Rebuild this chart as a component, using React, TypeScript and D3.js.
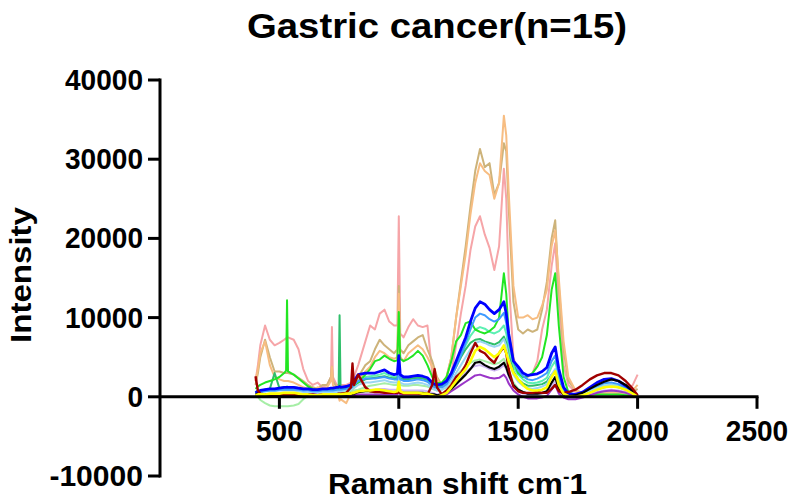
import React from 'react';
import * as d3 from 'd3';

// shared wavenumber grid (cm-1)
const wavenumbers = [
  400, 410, 420, 440, 460, 480, 500, 520, 528, 532, 536,
  560, 580, 600, 620, 640, 660, 680, 700, 716, 720, 724,
  740, 748, 752, 756, 780, 800, 806, 812, 830, 860, 880,
  900, 920, 940, 960, 980, 994, 1000, 1006, 1020, 1040, 1060,
  1080, 1100, 1120, 1140, 1150, 1160, 1180, 1200, 1220, 1240, 1260,
  1280, 1300, 1320, 1340, 1360, 1380, 1400, 1420, 1440, 1450, 1460,
  1480, 1500, 1520, 1540, 1560, 1580, 1600, 1620, 1640, 1655, 1670,
  1690, 1710, 1740, 1770, 1800, 1830, 1860, 1890, 1920, 1950, 1980, 2000,
];

const pink = [
  2000, 4000, 6500, 9000, 7200, 6500, 6800, 7200, 7400, 7500, 7500,
  7200, 6000, 3500, 2000, 1500, 1800, 1200, 1500, 2500, 8800, 2500,
  1500, 1500, 1500, 1500, 1500, 1800, 2200, 2500, 4000, 7000, 9000,
  8500, 10500, 11000, 9500, 9000, 9000, 22800, 8000, 7500, 8800, 9800,
  9000, 8800, 9000, 3000, 2000, 1500, 1200, 1500, 3000, 6500, 10500,
  14000, 18500, 21500, 22800, 20500, 18800, 16000, 19000, 28800, 25000, 15000,
  5000, 3000, 2500, 2500, 3000, 4500, 8500, 11000, 16500, 19400, 12000,
  4000, 1500, 600, 500, 500, 500, 500, 500, 500, 600, 1500, 2800,
];
const tan = [
  1500, 3000, 5000, 7200, 5000, 3200, 3200, 3000, 3000, 3000, 3000,
  2800, 2400, 2000, 1500, 1200, 1000, 1500, 1500, 2500, 3800, 2000,
  1200, 1000, 1000, 1000, 600, 800, 1000, 1500, 2500, 4000, 4500,
  6000, 7200, 6500, 6000, 5500, 6000, 14000, 6000, 5500, 6500, 7000,
  7500, 7800, 6000, 4500, 3500, 2500, 1500, 2500, 5000, 10000, 14500,
  19000, 24000, 28500, 31300, 29000, 29500, 25500, 27000, 32000, 31000, 24000,
  12000, 8500, 8000, 8500, 8200, 8500, 11000, 14500, 20000, 22300, 14000,
  6000, 2000, 800, 500, 400, 500, 600, 600, 500, 400, 600, 1000,
];
const orange = [
  2000, 3500, 5500, 7000, 4000, 2500, 2200, 2000, 2000, 2000, 2000,
  1800, 1500, 1200, 1000, 800, 1200, 1000, 1200, 2000, 3800, 1500,
  600, 0, -500, -300, -800, 500, 800, 1200, 2000, 3200, 3800,
  5000, 5800, 5500, 5000, 4800, 5000, 13000, 5000, 4500, 5500, 6000,
  6500, 6000, 5000, 3800, 3000, 2200, 1500, 2500, 5000, 10000, 14000,
  18000, 23000, 27000, 29500, 28500, 28000, 25000, 27000, 35500, 33000, 26000,
  14000, 10000, 10000, 10300, 9800, 10000, 11500, 13500, 19000, 21000, 15000,
  7000, 2500, 800, 500, 400, 400, 500, 600, 500, 500, 800, 1500,
];
const paleGreen = [
  300, 0, -400, -800, -1100, -1200, -1200, -1200, -1200, -1200, -1200,
  -1100, -900, -300, 100, 300, 400, 500, 500, 500, 500, 500,
  500, 500, 500, 600, 800, 700, 700, 800, 900, 1200, 1400,
  1500, 1600, 1700, 1600, 1500, 1500, 2500, 1500, 1400, 1400, 1500,
  1500, 1400, 1300, 1000, 900, 800, 900, 1200, 1800, 2600, 3300,
  3800, 4300, 4600, 4700, 4500, 4300, 4100, 4300, 4800, 4200, 3200,
  1800, 1000, 600, 400, 300, 300, 400, 600, 1200, 1500, 700,
  200, -100, -200, 0, 200, 500, 700, 800, 700, 500, 200, 0,
];
const aquamarine = [
  600, 700, 800, 900, 900, 1000, 1000, 1100, 1100, 1100, 1100,
  1100, 1000, 900, 900, 800, 800, 800, 900, 900, 900, 900,
  900, 1000, 1000, 1000, 1000, 1100, 1200, 1400, 2000, 2500, 2600,
  2700, 2800, 3000, 2700, 2500, 2500, 3800, 2500, 2300, 2300, 2400,
  2500, 2400, 2200, 1600, 1400, 1300, 1400, 1800, 2700, 4000, 5300,
  6500, 7700, 8500, 8800, 8600, 8200, 8000, 8300, 9000, 8000, 6000,
  3800, 2800, 2200, 1800, 1700, 1800, 2000, 2400, 3800, 4500, 2400,
  800, 300, 200, 400, 800, 1200, 1400, 1500, 1400, 1000, 500, 100,
];
const seaGreen = [
  600, 700, 800, 900, 1000, 3000, 1100, 1200, 1200, 1300, 1200,
  1200, 1100, 1000, 900, 900, 800, 800, 900, 900, 900, 900,
  1000, 1100, 10300, 1100, 1100, 1200, 1300, 1400, 1800, 2200, 2300,
  2400, 2500, 2600, 2400, 2300, 2300, 3500, 2300, 2200, 2200, 2300,
  2400, 2300, 2100, 1600, 1400, 1300, 1400, 1800, 2600, 3800, 5000,
  6000, 6800, 7200, 7300, 7000, 6800, 6600, 6900, 7600, 6800, 5200,
  3200, 2200, 1700, 1400, 1400, 1500, 1600, 1900, 2800, 3300, 1800,
  700, 300, 200, 400, 700, 1000, 1200, 1300, 1200, 900, 500, 100,
];
const lime = [
  1000, 1300, 1500, 1800, 2000, 2200, 2500, 3000, 3300, 12200, 3200,
  2800, 2300, 1800, 1300, 1000, 900, 800, 800, 900, 900, 900,
  1000, 1000, 1100, 1100, 1200, 1200, 1300, 1400, 1800, 2800, 3500,
  4500, 4700, 5200, 4800, 4500, 4600, 10700, 4800, 4500, 4800, 5200,
  5800, 5200, 4000, 2500, 2000, 1700, 1800, 2500, 4500, 7000, 7800,
  9300, 9500, 8500, 8200, 8000, 8300, 8800, 10000, 15600, 13000, 8000,
  4500, 3000, 2500, 2600, 3000, 3800, 5000, 7800, 13500, 15600, 9000,
  2500, 600, 200, 200, 300, 300, 300, 300, 300, 200, 200, 300,
];
const skyBlue = [
  500, 600, 700, 700, 700, 700, 800, 800, 800, 800, 800,
  800, 700, 600, 500, 500, 500, 600, 600, 600, 600, 600,
  600, 700, 700, 700, 800, 900, 1000, 1100, 1500, 1800, 1800,
  1900, 2000, 2100, 1900, 1800, 1800, 2800, 1800, 1600, 1600, 1700,
  1800, 1700, 1500, 1100, 900, 800, 900, 1300, 2000, 3000, 4000,
  5000, 6000, 6800, 7000, 6800, 6500, 6300, 6500, 7300, 6400, 4800,
  2800, 1900, 1400, 1100, 1000, 1100, 1300, 1600, 2800, 3500, 1600,
  500, 200, 200, 400, 800, 1100, 1400, 1500, 1300, 900, 400, 100,
];
const lightBlue = [
  400, 500, 600, 700, 800, 800, 900, 900, 900, 900, 900,
  900, 900, 800, 800, 700, 700, 800, 800, 800, 800, 800,
  900, 900, 900, 900, 1000, 1100, 1300, 1500, 2000, 2300, 2300,
  2300, 2400, 2500, 2300, 2200, 2200, 3500, 2200, 2000, 2000, 2100,
  2200, 2100, 1900, 1400, 1200, 1100, 1200, 1600, 2500, 3800, 5200,
  6800, 8500, 10000, 10500, 10300, 9800, 9500, 9800, 10600, 9300, 7000,
  4500, 3300, 2600, 2200, 2100, 2300, 2600, 3000, 4500, 5200, 2800,
  900, 300, 300, 500, 1000, 1400, 1700, 1800, 1600, 1100, 500, 100,
];
const blue = [
  500, 700, 800, 900, 1000, 1000, 1100, 1200, 1200, 1200, 1200,
  1200, 1100, 1000, 1000, 900, 900, 1000, 1000, 1100, 1100, 1100,
  1200, 1200, 1300, 1200, 1300, 1500, 1800, 2000, 2800, 3000, 3000,
  3000, 3200, 3400, 3000, 2800, 2900, 5200, 2800, 2500, 2500, 2600,
  2700, 2600, 2400, 1800, 1600, 1500, 1600, 2000, 3000, 4500, 6000,
  7500, 9500, 11200, 12000, 11700, 11000, 10500, 11000, 12000, 10500, 8000,
  4500, 3800, 3000, 2700, 2800, 2900, 3200, 3700, 5500, 6300, 3500,
  1200, 400, 300, 600, 1200, 1800, 2200, 2300, 2000, 1400, 700, 100,
];
const lavender = [
  200, 300, 300, 300, 400, 400, 400, 400, 400, 400, 400,
  400, 400, 300, 300, 300, 300, 300, 300, 300, 300, 300,
  300, 300, 300, 300, 400, 400, 500, 500, 700, 800, 900,
  900, 1000, 1000, 900, 900, 900, 1500, 900, 800, 800, 800,
  800, 800, 700, 500, 400, 300, 400, 800, 1300, 2000, 2600,
  3100, 3600, 3900, 4000, 3800, 3500, 3300, 3500, 4000, 3500, 2600,
  1300, 700, 400, 300, 300, 300, 400, 600, 1400, 2000, 800,
  200, 0, 0, 200, 400, 600, 800, 900, 800, 600, 300, 0,
];
const purple = [
  0, 100, 100, 100, 100, 100, 100, 100, 100, 100, 100,
  100, 100, 0, 0, 0, 0, 0, 100, 100, 100, 100,
  100, 100, 100, 100, 100, 200, 200, 200, 300, 300, 300,
  300, 300, 300, 300, 300, 300, 600, 300, 300, 300, 300,
  300, 300, 200, 100, 100, 0, 100, 300, 700, 1100, 1500,
  1900, 2300, 2700, 2800, 2600, 2400, 2300, 2400, 2800, 2400, 1700,
  800, 300, 0, -200, -200, -200, -100, 100, 900, 1500, 400,
  -100, -300, -300, -100, 200, 500, 700, 800, 700, 500, 200, 0,
];
const black = [
  300, 400, 300, 300, 300, 300, 300, 300, 300, 300, 300,
  300, 300, 200, 200, 200, 200, 200, 300, 300, 300, 300,
  300, 300, 300, 300, 300, 400, 400, 400, 600, 700, 700,
  700, 700, 700, 600, 600, 600, 1200, 600, 500, 500, 500,
  500, 500, 400, 300, 300, 200, 300, 600, 1000, 1600, 2200,
  2800, 3500, 4300, 4400, 4000, 3700, 3500, 3800, 4300, 3700, 2800,
  1500, 900, 600, 400, 400, 400, 500, 700, 1800, 2500, 1000,
  300, 100, 200, 500, 1000, 1500, 1900, 2200, 2000, 1500, 700, 100,
];
const darkRed = [
  2600, 800, 400, 300, 300, 300, 300, 300, 300, 300, 300,
  300, 200, 200, 300, 300, 200, 300, 300, 300, 300, 300,
  300, 400, 400, 400, 500, 1200, 4200, 1500, 2800, 1200, 700,
  600, 600, 500, 500, 500, 500, 600, 500, 400, 400, 400,
  400, 300, 300, 1500, 3500, 1200, 300, 800, 1500, 2500, 3000,
  4000, 5500, 6800, 5800, 5500, 4800, 4300, 5500, 6300, 5500, 3500,
  1300, 700, 500, 500, 500, 600, 500, 500, 1000, 1500, 700,
  500, 600, 900, 1500, 2200, 2700, 3000, 3000, 2700, 2000, 1000, 200,
];
const yellow = [
  200, 300, 300, 300, 400, 400, 400, 500, 500, 500, 500,
  500, 400, 300, 300, 200, 200, 300, 300, 300, 300, 300,
  300, 300, 300, 300, 400, 400, 500, 500, 700, 800, 800,
  900, 900, 800, 700, 600, 700, 1900, 700, 500, 500, 500,
  500, 400, 400, 200, 100, 0, 200, 500, 1200, 2000, 2800,
  3500, 4500, 5800, 6300, 6000, 5500, 5000, 5500, 6500, 5500, 4500,
  3000, 2200, 1500, 1000, 800, 800, 900, 1200, 2500, 3200, 1500,
  400, 100, 0, 200, 500, 900, 1200, 1300, 1200, 900, 400, 0,
];

// drawing order, bottom to top
const series = [
  { name: 'pink', values: pink, color: '#f6a5a8', width: 2 },
  { name: 'tan', values: tan, color: '#cdb37a', width: 2 },
  { name: 'orange', values: orange, color: '#f7bd82', width: 2 },
  { name: 'paleGreen', values: paleGreen, color: '#a6eea6', width: 2 },
  { name: 'aquamarine', values: aquamarine, color: '#5cf0b2', width: 2 },
  { name: 'seaGreen', values: seaGreen, color: '#2fbf6a', width: 2 },
  { name: 'lime', values: lime, color: '#22e622', width: 2 },
  { name: 'skyBlue', values: skyBlue, color: '#9ad6f2', width: 2 },
  { name: 'lightBlue', values: lightBlue, color: '#3d9bff', width: 2 },
  { name: 'blue', values: blue, color: '#0000ff', width: 2.8 },
  { name: 'lavender', values: lavender, color: '#cdb6f2', width: 2 },
  { name: 'purple', values: purple, color: '#9a35c8', width: 2 },
  { name: 'black', values: black, color: '#000000', width: 2.2 },
  { name: 'darkRed', values: darkRed, color: '#a00000', width: 2.4 },
  { name: 'yellow', values: yellow, color: '#ffff00', width: 2.6 },
];

const xTicks = [500, 1000, 1500, 2000, 2500];
const yTicks = [-10000, 0, 10000, 20000, 30000, 40000];

const font = '"Liberation Sans", Arial, sans-serif';

export default function App() {
  const x = d3.scaleLinear().domain([0, 2500]).range([160, 757]);
  const y = d3.scaleLinear().domain([-10000, 40000]).range([476, 80]);

  const line = d3.line<number>()
    .x((d, i) => x(wavenumbers[i]))
    .y(d => y(d));

  return (
    <svg width={795} height={503} style={{ position: 'absolute', left: 0, top: 0, background: '#fff' }}>
      <rect width={795} height={503} fill="#fff" />

      {/* spectra */}
      <g fill="none" strokeLinejoin="round">
        {series.map(s => (
          <path key={s.name} d={line(s.values) || ''} stroke={s.color} strokeWidth={s.width} />
        ))}
      </g>

      {/* y axis */}
      <g stroke="#000" strokeWidth={3}>
        <line x1={160} x2={160} y1={y(-10000) + 1.5} y2={y(40000) - 1.5} />
        {yTicks.map(t => (
          <line key={t} x1={148} x2={160} y1={y(t)} y2={y(t)} />
        ))}
      </g>
      {yTicks.map(t => (
        <text key={t} x={143} y={y(t) + 10} textAnchor="end" fontFamily={font} fontWeight="bold" fontSize={29} textLength={String(t).length * 15.6} lengthAdjust="spacingAndGlyphs">
          {t}
        </text>
      ))}

      {/* x axis */}
      <g stroke="#000" strokeWidth={3}>
        <line x1={160} x2={x(2500) + 1.5} y1={y(0)} y2={y(0)} />
        {xTicks.map(t => (
          <line key={t} x1={x(t)} x2={x(t)} y1={y(0)} y2={y(0) + 12} />
        ))}
      </g>
      {xTicks.map(t => (
        <text key={t} x={x(t)} y={441} textAnchor="middle" fontFamily={font} fontWeight="bold" fontSize={29} textLength={String(t).length * 15.6} lengthAdjust="spacingAndGlyphs">
          {t}
        </text>
      ))}

      {/* titles */}
      <text x={247} y={38} fontFamily={font} fontWeight="bold" fontSize={35} textLength={380} lengthAdjust="spacingAndGlyphs">
        Gastric cancer(n=15)
      </text>
      <text x={328} y={494} fontFamily={font} fontWeight="bold" fontSize={29} textLength={259} lengthAdjust="spacingAndGlyphs">
        Raman shift cm<tspan fontSize={18} dy={-11}>-</tspan><tspan dy={11}>1</tspan>
      </text>
      <text transform="translate(31,275) rotate(-90)" textAnchor="middle" fontFamily={font} fontWeight="bold" fontSize={29} textLength={136} lengthAdjust="spacingAndGlyphs">
        Intensity
      </text>
    </svg>
  );
}
